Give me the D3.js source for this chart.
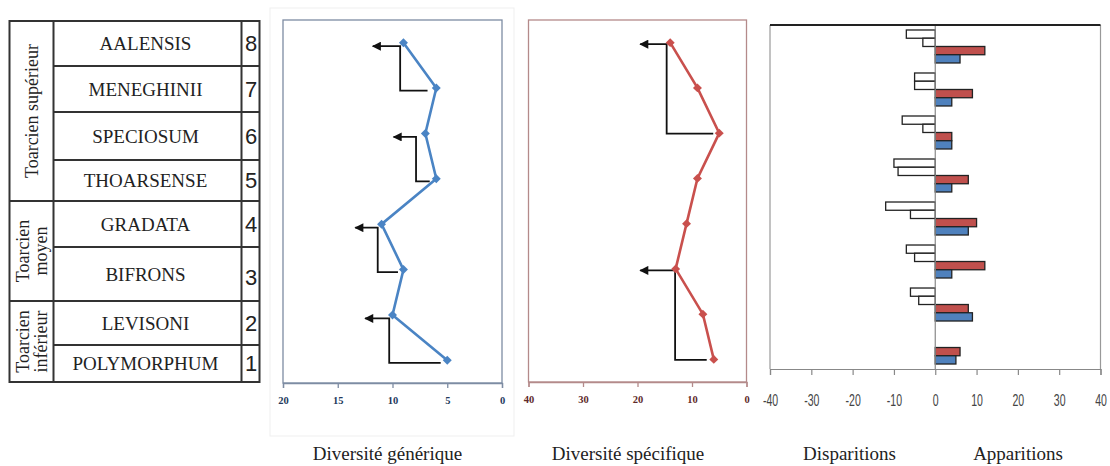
<!DOCTYPE html>
<html>
<head>
<meta charset="utf-8">
<script src="https://cdn.jsdelivr.net/npm/d3@7"></script>
<style>
body { margin: 0; background: #fff; }
svg { display: block; }
</style>
</head>
<body>
<svg id="chart" width="1110" height="466"></svg>
<script>
"use strict";
// niveaux 1 (base) -> 8 (sommet)
var levels = [1, 2, 3, 4, 5, 6, 7, 8];
var zones = ["POLYMORPHUM", "LEVISONI", "BIFRONS", "GRADATA", "THOARSENSE", "SPECIOSUM", "MENEGHINII", "AALENSIS"];
var stages = [
  { lines: ["Toarcien", "inférieur"], from: 1, to: 2 },
  { lines: ["Toarcien", "moyen"], from: 3, to: 4 },
  { lines: ["Toarcien supérieur"], from: 5, to: 8 }
];

var diversiteGenerique = [5, 10, 9, 11, 6, 7, 6, 9];
var diversiteSpecifique = [6, 8, 13, 11, 9, 5, 9, 14];

var apparitionsGenres = [5, 9, 4, 8, 4, 4, 4, 6];
var apparitionsEspeces = [6, 8, 12, 10, 8, 4, 9, 12];
var disparitionsGenres = [0, 4, 5, 6, 9, 3, 5, 3];
var disparitionsEspeces = [0, 6, 7, 12, 10, 8, 5, 7];

// fleches (valeurs en unites de l'axe)
var flechesGen = [
  { from: 1, to: 2, x0: 5.6, x1: 10.3, x2: 12.5 },
  { from: 3, to: 4, x0: 9.5, x1: 11.35, x2: 13.4 },
  { from: 5, to: 6, x0: 6.6, x1: 7.85, x2: 9.9 },
  { from: 7, to: 8, x0: 6.8, x1: 9.3, x2: 11.8 }
];
var flechesSpe = [
  { from: 1, to: 3, x0: 7.3, x1: 13.1, x2: 19.5 },
  { from: 6, to: 8, x0: 6.1, x1: 14.65, x2: 19.5 }
];

var ticksGen = [20, 15, 10, 5, 0];
var ticksSpe = [40, 30, 20, 10, 0];
var ticksBar = [-40, -30, -20, -10, 0, 10, 20, 30, 40];

var titles = ["Diversité générique", "Diversité spécifique", "Disparitions", "Apparitions"];

// layout du tableau (bords des lignes, du bas vers le haut)
var tableRows = [382, 345, 301, 247, 201, 160, 112, 66, 21];

var svg = d3.select("#chart");
var serif = "'Liberation Serif', 'Times New Roman', serif";

svg.append("defs").append("marker")
  .attr("id", "head")
  .attr("markerUnits", "userSpaceOnUse")
  .attr("viewBox", "0 0 10 10")
  .attr("refX", 9).attr("refY", 5)
  .attr("markerWidth", 10).attr("markerHeight", 9)
  .attr("orient", "auto")
  .append("path").attr("d", "M0,0L10,5L0,10z").attr("fill", "#111");

// ---------- tableau stratigraphique ----------
var table = svg.append("g");
var tL = 9.5, tC1 = 53.5, tC2 = 241.5, tR = 259.5;
var tStroke = "#333";
table.append("rect")
  .attr("x", tL).attr("y", tableRows[8]).attr("width", tR - tL).attr("height", tableRows[0] - tableRows[8])
  .attr("fill", "none").attr("stroke", tStroke).attr("stroke-width", 2);
[tC1, tC2].forEach(function (x) {
  table.append("line").attr("x1", x).attr("x2", x).attr("y1", tableRows[8]).attr("y2", tableRows[0])
    .attr("stroke", tStroke).attr("stroke-width", 2);
});
tableRows.slice(1, 8).forEach(function (y) {
  table.append("line").attr("x1", tC1).attr("x2", tR).attr("y1", y).attr("y2", y)
    .attr("stroke", tStroke).attr("stroke-width", 2);
});
stages.slice(0, 2).forEach(function (s) {
  var y = tableRows[s.to];
  table.append("line").attr("x1", tL).attr("x2", tC1).attr("y1", y).attr("y2", y)
    .attr("stroke", tStroke).attr("stroke-width", 2);
});

table.selectAll(".zone").data(levels).enter().append("text")
  .attr("class", "zone")
  .attr("x", (tC1 + tC2) / 2 - 2)
  .attr("y", function (d) { return (tableRows[d - 1] + tableRows[d]) / 2; })
  .attr("dy", "0.35em")
  .attr("text-anchor", "middle")
  .attr("font-family", serif).attr("font-size", 19).attr("fill", "#222")
  .text(function (d) { return zones[d - 1]; });

table.selectAll(".num").data(levels).enter().append("text")
  .attr("class", "num")
  .attr("x", (tC2 + tR) / 2 + 0.5)
  .attr("y", function (d) { return (tableRows[d - 1] + tableRows[d]) / 2 + (d === 3 ? 3 : 0); })
  .attr("dy", "0.36em")
  .attr("text-anchor", "middle")
  .attr("font-family", "'Liberation Sans', Arial, sans-serif").attr("font-size", 22).attr("fill", "#222")
  .text(function (d) { return d; });

stages.forEach(function (s) {
  var cy = (tableRows[s.from - 1] + tableRows[s.to]) / 2;
  var g = table.append("g").attr("transform", "translate(" + ((tL + tC1) / 2) + "," + cy + ") rotate(-90)");
  var t = g.append("text").attr("text-anchor", "middle")
    .attr("font-family", serif).attr("font-size", 18).attr("fill", "#222");
  s.lines.forEach(function (line, i) {
    t.append("tspan").attr("x", 0)
      .attr("y", (i - (s.lines.length - 1) / 2) * 18.5)
      .attr("dy", "0.35em")
      .text(line);
  });
});

// ---------- diversites ----------
svg.append("rect").attr("x", 270).attr("y", 8).attr("width", 244).attr("height", 428)
  .attr("fill", "none").attr("stroke", "#efefef");

function drawDiversity(o) {
  var x = d3.scaleLinear().domain([o.max, 0]).range([o.left, o.right]);
  var y = d3.scaleLinear().domain([0.5, 8.5]).range([o.bottom, o.top]);
  var g = svg.append("g");

  g.append("rect").attr("x", o.left).attr("y", o.top)
    .attr("width", o.right - o.left).attr("height", o.bottom - o.top)
    .attr("fill", "none").attr("stroke", o.frame).attr("stroke-width", 1.3);

  var ax = g.append("g").attr("transform", "translate(0," + o.bottom + ")")
    .call(d3.axisBottom(x).tickValues(o.ticks).tickSize(5).tickPadding(9));
  ax.selectAll("path, line").attr("stroke", o.frame).attr("stroke-width", 1.3);
  ax.selectAll("text").attr("font-family", serif).attr("font-weight", "bold")
    .attr("font-size", 10.5).attr("fill", o.tickColor);

  g.selectAll(".arrow").data(o.arrows).enter().append("path")
    .attr("class", "arrow")
    .attr("d", function (d) {
      return "M" + x(d.x0) + "," + (y(d.from) + o.dyB) + "H" + x(d.x1) +
        "V" + (y(d.to) + o.dyT) + "H" + x(d.x2);
    })
    .attr("fill", "none").attr("stroke", "#111").attr("stroke-width", 1.8)
    .attr("marker-end", "url(#head)");

  var line = d3.line().x(function (d, i) { return x(o.values[i]); }).y(function (d) { return y(d); });
  g.append("path").datum(levels).attr("d", line)
    .attr("fill", "none").attr("stroke", o.color).attr("stroke-width", 2.6);

  g.selectAll(".pt").data(levels).enter().append("path")
    .attr("class", "pt")
    .attr("d", d3.symbol(d3.symbolSquare, 40))
    .attr("transform", function (d, i) { return "translate(" + x(o.values[i]) + "," + y(d) + ") rotate(45)"; })
    .attr("fill", o.color);
}

drawDiversity({
  values: diversiteGenerique, max: 20, ticks: ticksGen, arrows: flechesGen,
  left: 283, right: 502, top: 20, bottom: 383,
  color: "#4a84c4", frame: "#7d8ca3", tickColor: "#23395b", dyB: 2.5, dyT: 3.5
});
drawDiversity({
  values: diversiteSpecifique, max: 40, ticks: ticksSpe, arrows: flechesSpe,
  left: 528.5, right: 746.5, top: 20, bottom: 382,
  color: "#c9504d", frame: "#b48a8a", tickColor: "#5e2a2a", dyB: 0.5, dyT: 1.5
});

// ---------- apparitions / disparitions ----------
var bx = d3.scaleLinear().domain([-40, 40]).range([770, 1100.5]);
var by = d3.scaleBand().domain(levels.slice().reverse()).range([25, 369])
  .paddingInner(0.233).paddingOuter(0.116);
var series = [
  { values: disparitionsEspeces, sign: -1, fill: "#fff" },
  { values: disparitionsGenres, sign: -1, fill: "#fff" },
  { values: apparitionsEspeces, sign: 1, fill: "#c0504d" },
  { values: apparitionsGenres, sign: 1, fill: "#4f81bd" }
];
var sub = d3.scaleBand().domain(d3.range(series.length)).range([0, by.bandwidth()]);

var bg = svg.append("g");
bg.append("line").attr("x1", bx(-40)).attr("x2", bx(-40)).attr("y1", 25).attr("y2", 369)
  .attr("stroke", "#999").attr("stroke-width", 1.2);
bg.append("line").attr("x1", bx(40)).attr("x2", bx(40)).attr("y1", 25).attr("y2", 369)
  .attr("stroke", "#999").attr("stroke-width", 1.2);

var bax = bg.append("g").attr("transform", "translate(0,369)")
  .call(d3.axisBottom(bx).tickValues(ticksBar).tickSize(6).tickPadding(19)
    .tickFormat(function (d) { return String(d); }));
bax.selectAll("path, line").attr("stroke", "#888").attr("stroke-width", 1.2);
bax.selectAll("text")
  .attr("font-family", "'Liberation Sans', Arial, sans-serif").attr("font-size", 17)
  .attr("fill", "#444").attr("transform", "scale(0.62,1)");

series.forEach(function (s, k) {
  bg.selectAll(".b" + k).data(levels).enter().append("rect")
    .attr("class", "b" + k)
    .attr("x", function (d, i) { return Math.min(bx(0), bx(s.sign * s.values[i])); })
    .attr("y", function (d) { return by(d) + sub(k); })
    .attr("width", function (d, i) { return Math.abs(bx(s.sign * s.values[i]) - bx(0)); })
    .attr("height", sub.bandwidth())
    .attr("fill", s.fill)
    .attr("stroke", function (d, i) { return s.values[i] ? "#222" : "none"; })
    .attr("stroke-width", 1.3);
});

bg.append("line").attr("x1", bx(0)).attr("x2", bx(0)).attr("y1", 25).attr("y2", 369)
  .attr("stroke", "#888").attr("stroke-width", 1.2);
bg.append("line").attr("x1", bx(-40)).attr("x2", bx(40)).attr("y1", 25).attr("y2", 25)
  .attr("stroke", "#222").attr("stroke-width", 2);

// ---------- titres ----------
var titleX = [387.5, 628, 849.5, 1018];
svg.selectAll(".title").data(titles).enter().append("text")
  .attr("class", "title")
  .attr("x", function (d, i) { return titleX[i]; })
  .attr("y", 460)
  .attr("text-anchor", "middle")
  .attr("font-family", serif).attr("font-size", 19).attr("fill", "#222")
  .text(function (d) { return d; });
</script>
</body>
</html>
